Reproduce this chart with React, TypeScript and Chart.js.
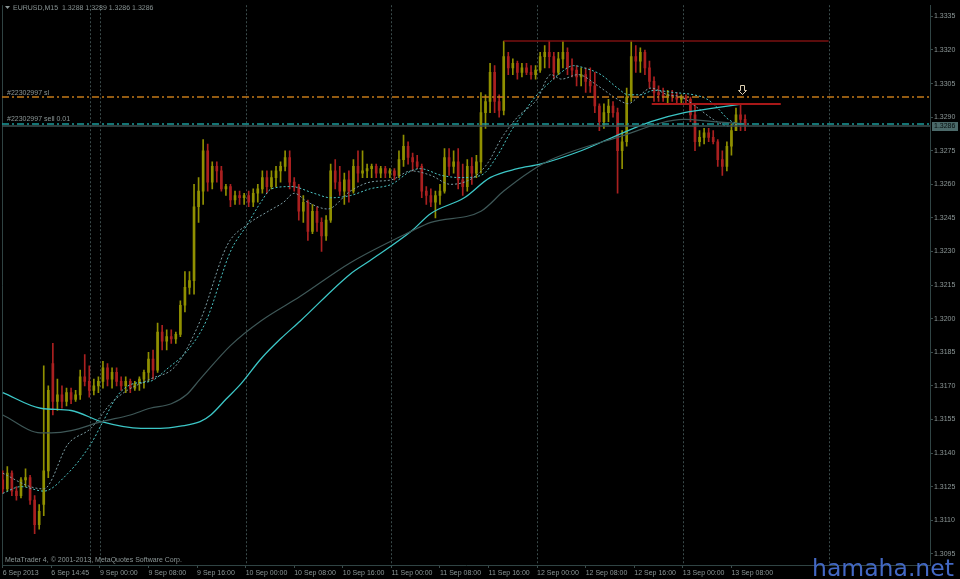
import React, { useEffect, useRef } from "react";
import { Chart, registerables } from "chart.js";

Chart.register(...registerables);

// ---- symbol / header ----
const symbolName = "EURUSD,M15";
const headerOHLC = [1.3288, 1.3289, 1.3286, 1.3286];

// ---- time axis (bar index of M15 bars) ----
const timeTickBars = [0, 32, 64, 96, 128, 160, 192, 224, 256, 288, 320, 352, 384, 416, 448, 480];
const timeLabels = [
  "6 Sep 2013", "6 Sep 14:45", "9 Sep 00:00", "9 Sep 08:00", "9 Sep 16:00",
  "10 Sep 00:00", "10 Sep 08:00", "10 Sep 16:00", "11 Sep 00:00", "11 Sep 08:00",
  "11 Sep 16:00", "12 Sep 00:00", "12 Sep 08:00", "12 Sep 16:00", "13 Sep 00:00", "13 Sep 08:00",
];
const separatorBars = [57.3, 64, 160, 256, 352, 448, 544];

// ---- price axis ----
const priceTicks = [1.3095, 1.311, 1.3125, 1.314, 1.3155, 1.317, 1.3185, 1.32, 1.3215, 1.323, 1.3245, 1.326, 1.3275, 1.329, 1.3305, 1.332, 1.3335];

// ---- candles ----
const candleBars = [
  0, 3, 6, 9, 12, 15, 18, 21, 24, 27, 30, 33, 36, 39, 42, 45, 48, 51, 54, 57,
  60, 63, 66, 69, 72, 75, 78, 81, 84, 87, 90, 93, 96, 99, 102, 105, 108, 111, 114, 117,
  120, 123, 126, 129, 132, 135, 138, 141, 144, 147, 150, 153, 156, 159, 162, 165, 168, 171, 174, 177,
  180, 183, 186, 189, 192, 195, 198, 201, 204, 207, 210, 213, 216, 219, 222, 225, 228, 231, 234, 237,
  240, 243, 246, 249, 252, 255, 258, 261, 264, 267, 270, 273, 276, 279, 282, 285, 288, 291, 294, 297,
  300, 303, 306, 309, 312, 315, 318, 321, 324, 327, 330, 333, 336, 339, 342, 345, 348, 351, 354, 357,
  360, 363, 366, 369, 372, 375, 378, 381, 384, 387, 390, 393, 396, 399, 402, 405, 408, 411, 414, 417,
  420, 423, 426, 429, 432, 435, 438, 441, 444, 447, 450, 453, 456, 459, 462, 465, 468, 471, 474, 477,
  480, 483, 486, 489,
];
const opens = [
  1.3128, 1.3124, 1.3131, 1.3123, 1.3121, 1.3128, 1.3129, 1.3119, 1.3108, 1.3117,
  1.3132, 1.318, 1.3163, 1.3166, 1.3163, 1.3167, 1.3164, 1.3166, 1.3174, 1.3172,
  1.3168, 1.317, 1.3172, 1.3178, 1.3173, 1.3176, 1.3172, 1.317, 1.3172, 1.3169,
  1.3171, 1.3173, 1.3176, 1.3182, 1.3177, 1.3194, 1.319, 1.3192, 1.3191, 1.3193,
  1.3206, 1.3214, 1.3217, 1.325, 1.3257, 1.3275, 1.3261, 1.3268, 1.3266, 1.3258,
  1.3259, 1.3253, 1.3255, 1.3254, 1.3255, 1.3252, 1.3256, 1.3258, 1.3263, 1.3259,
  1.3263, 1.3266, 1.3268, 1.3272, 1.3261, 1.3259, 1.3248, 1.3252, 1.3239, 1.3248,
  1.3243, 1.3237, 1.3244, 1.3266, 1.3261, 1.3257, 1.3262, 1.3257, 1.3268, 1.3265,
  1.3266, 1.3267, 1.3268, 1.3265, 1.3267, 1.3265, 1.3266, 1.3264, 1.3271, 1.3277,
  1.3272, 1.327, 1.3268, 1.3257, 1.3255, 1.3252, 1.3255, 1.3257, 1.3272, 1.3268,
  1.327, 1.3262, 1.3259, 1.3268, 1.3265, 1.327, 1.3292, 1.3297, 1.331, 1.3297,
  1.3293, 1.3317, 1.3312, 1.3314, 1.331, 1.3312, 1.331, 1.3309, 1.3311, 1.3317,
  1.3319, 1.3317, 1.331, 1.3316, 1.3319, 1.3312, 1.3311, 1.3308, 1.3309, 1.3306,
  1.3304, 1.3295, 1.3288, 1.3292, 1.3295, 1.3292, 1.3275, 1.3279, 1.3299, 1.3317,
  1.3315, 1.3319, 1.3312, 1.3306, 1.3301, 1.33, 1.3299, 1.33, 1.3299, 1.3298,
  1.3299, 1.3298, 1.3291, 1.3279, 1.3281, 1.3283, 1.3281, 1.3279, 1.3271, 1.3268,
  1.3277, 1.3284, 1.3291, 1.3289,
];
const highs = [
  1.3132, 1.3134, 1.3132, 1.3125, 1.3129, 1.3133, 1.313, 1.3121, 1.3117, 1.3179,
  1.317, 1.3189, 1.3173, 1.317, 1.3169, 1.3169, 1.3168, 1.3177, 1.3184, 1.3179,
  1.3173, 1.3174, 1.3181, 1.318, 1.3178, 1.3178, 1.3174, 1.3174, 1.3173, 1.3172,
  1.3174, 1.3177, 1.3185, 1.3186, 1.3198, 1.3197, 1.3195, 1.3195, 1.3194, 1.3208,
  1.3221, 1.3221, 1.326, 1.3263, 1.328, 1.3278, 1.327, 1.327, 1.3268, 1.326,
  1.326, 1.3257, 1.3257, 1.3256, 1.3257, 1.3258, 1.326, 1.3266, 1.3266, 1.3266,
  1.3268, 1.327, 1.3275, 1.3275, 1.3263, 1.326, 1.3255, 1.3253, 1.3251, 1.325,
  1.3245, 1.3246, 1.3269, 1.3271, 1.3268, 1.3265, 1.3266, 1.3271, 1.3275, 1.3275,
  1.3269, 1.3269, 1.3269, 1.3268, 1.3268, 1.3267, 1.3267, 1.3275, 1.3282, 1.3279,
  1.3274, 1.3273, 1.3269, 1.3259, 1.3258, 1.3257, 1.326, 1.3276, 1.3276, 1.3275,
  1.3276, 1.3269, 1.3271, 1.3272, 1.3273, 1.3301, 1.33, 1.3314, 1.3313, 1.33,
  1.3324, 1.3319, 1.3316, 1.3315, 1.3314, 1.3314, 1.3313, 1.3313, 1.3319, 1.3322,
  1.3324, 1.3319, 1.3319, 1.3324, 1.3321, 1.3316, 1.3313, 1.3312, 1.3312, 1.3312,
  1.331, 1.3296, 1.3296, 1.3298, 1.3297, 1.3294, 1.3284, 1.3303, 1.3324, 1.3322,
  1.3321, 1.332, 1.3315, 1.3308, 1.3304, 1.3303, 1.3302, 1.3302, 1.3301, 1.33,
  1.33, 1.3299, 1.3296, 1.3284, 1.3285, 1.3285, 1.3284, 1.328, 1.3275, 1.3279,
  1.3287, 1.3294, 1.3296, 1.3291,
];
const lows = [
  1.3122, 1.3123, 1.3121, 1.3119, 1.312, 1.3125, 1.3117, 1.3104, 1.3106, 1.3112,
  1.3129, 1.3157, 1.3159, 1.316, 1.3161, 1.3162, 1.3163, 1.3164, 1.317, 1.3165,
  1.3166, 1.3167, 1.3169, 1.317, 1.3169, 1.317, 1.3168, 1.3167, 1.3167, 1.3168,
  1.3168, 1.3169, 1.3172, 1.3173, 1.3176, 1.3186, 1.3186, 1.3189, 1.3189, 1.3192,
  1.3203, 1.3211, 1.3211, 1.3243, 1.3251, 1.3257, 1.3258, 1.3261, 1.3257, 1.3255,
  1.325, 1.3251, 1.3251, 1.3251, 1.325, 1.325, 1.3252, 1.3256, 1.3256, 1.3258,
  1.3259, 1.3261, 1.3266, 1.3258, 1.3257, 1.3244, 1.3243, 1.3235, 1.3238, 1.3239,
  1.323, 1.3235, 1.3243, 1.3258, 1.3255, 1.3251, 1.3252, 1.3256, 1.3261, 1.3263,
  1.3263, 1.3263, 1.3263, 1.3263, 1.3263, 1.3263, 1.3262, 1.3263, 1.3268, 1.3269,
  1.3266, 1.3267, 1.3254, 1.3251, 1.325, 1.3245, 1.3251, 1.3256, 1.3264, 1.3265,
  1.3258, 1.3255, 1.3257, 1.326, 1.3263, 1.3265, 1.3285, 1.3292, 1.3292, 1.329,
  1.3291, 1.3309, 1.3309, 1.3307, 1.3308, 1.3309, 1.3307, 1.3307, 1.331, 1.3312,
  1.3312, 1.3307, 1.3309, 1.3312, 1.3309, 1.3308, 1.3304, 1.3304, 1.3301, 1.3301,
  1.3292, 1.3284, 1.3285, 1.3288, 1.329, 1.3256, 1.3267, 1.3277, 1.3297, 1.331,
  1.331, 1.3309, 1.3303, 1.3297, 1.3297, 1.3297, 1.3296, 1.3297, 1.3296, 1.3296,
  1.3296, 1.3288, 1.3275, 1.3277, 1.3278, 1.3279, 1.3278, 1.3268, 1.3264, 1.3266,
  1.3273, 1.3284, 1.3284, 1.3284,
];
const closes = [
  1.3124, 1.3131, 1.3123, 1.3121, 1.3128, 1.3129, 1.3119, 1.3108, 1.3114, 1.3132,
  1.3168, 1.3163, 1.3166, 1.3163, 1.3167, 1.3164, 1.3166, 1.3174, 1.3172, 1.3168,
  1.317, 1.3172, 1.3178, 1.3173, 1.3176, 1.3172, 1.317, 1.3172, 1.3169, 1.3171,
  1.3173, 1.3176, 1.3182, 1.3177, 1.3194, 1.319, 1.3192, 1.3191, 1.3193, 1.3206,
  1.3214, 1.3217, 1.325, 1.3257, 1.3275, 1.3261, 1.3268, 1.3266, 1.3258, 1.3259,
  1.3253, 1.3255, 1.3254, 1.3255, 1.3252, 1.3256, 1.3258, 1.3263, 1.3259, 1.3263,
  1.3266, 1.3268, 1.3272, 1.3261, 1.3259, 1.3248, 1.3252, 1.3239, 1.3248, 1.3243,
  1.3237, 1.3244, 1.3266, 1.3261, 1.3257, 1.3262, 1.3257, 1.3268, 1.3265, 1.3266,
  1.3267, 1.3268, 1.3265, 1.3267, 1.3265, 1.3266, 1.3264, 1.3271, 1.3277, 1.3272,
  1.327, 1.3268, 1.3257, 1.3255, 1.3252, 1.3255, 1.3257, 1.3272, 1.3268, 1.327,
  1.3262, 1.3259, 1.3268, 1.3265, 1.327, 1.3292, 1.3297, 1.331, 1.3297, 1.3293,
  1.3317, 1.3312, 1.3314, 1.331, 1.3312, 1.331, 1.3309, 1.3311, 1.3317, 1.3319,
  1.3317, 1.331, 1.3316, 1.3319, 1.3312, 1.3311, 1.3308, 1.3309, 1.3306, 1.3304,
  1.3295, 1.3288, 1.3292, 1.3295, 1.3292, 1.3275, 1.3279, 1.3299, 1.3317, 1.3315,
  1.3319, 1.3312, 1.3306, 1.3301, 1.33, 1.3299, 1.33, 1.3299, 1.3298, 1.3299,
  1.3298, 1.3291, 1.3279, 1.3281, 1.3283, 1.3281, 1.3279, 1.3271, 1.3268, 1.3277,
  1.3284, 1.3291, 1.3289, 1.3286,
];

// ---- moving averages ----
const maSlowBars = [0, 25, 45, 65, 91, 104, 117, 130, 137, 147, 157, 170, 183, 196, 229, 242, 269, 282, 304, 321, 339, 354, 381, 405, 427, 449, 468, 489];
const maSlowValues = [1.3167, 1.316, 1.3159, 1.3154, 1.3151, 1.3151, 1.3152, 1.3154, 1.3157, 1.3164, 1.3171, 1.3182, 1.3191, 1.3199, 1.322, 1.3226, 1.3239, 1.3247, 1.3254, 1.3263, 1.3267, 1.3269, 1.3275, 1.3282, 1.3288, 1.3292, 1.3294, 1.3296];

const maSlowestBars = [0, 25, 32, 45, 65, 84, 97, 111, 121, 130, 150, 170, 196, 229, 269, 282, 315, 330, 348, 361, 405, 449, 468, 489];
const maSlowestValues = [1.3157, 1.3149, 1.3149, 1.315, 1.3154, 1.3157, 1.316, 1.3162, 1.3166, 1.3173, 1.3188, 1.3199, 1.321, 1.3225, 1.3239, 1.3243, 1.3248, 1.3257, 1.3266, 1.3271, 1.3281, 1.3289, 1.3288, 1.3287];

const maFastBars = [0, 12, 27, 43, 58, 66, 76, 86, 97, 109, 122, 134, 150, 161, 170, 177, 190, 205, 216, 229, 242, 256, 269, 275, 289, 302, 315, 326, 335, 343, 352, 361, 366, 376, 383, 394, 405, 412, 420, 429, 442, 455, 464, 471, 478, 486, 489];
const maFastValues = [1.3122, 1.3125, 1.3123, 1.3131, 1.3144, 1.3154, 1.3166, 1.3171, 1.3172, 1.3178, 1.3186, 1.3199, 1.323, 1.3242, 1.3252, 1.3258, 1.3259, 1.3256, 1.3254, 1.3255, 1.3258, 1.326, 1.3266, 1.3267, 1.3264, 1.3263, 1.3264, 1.3273, 1.3284, 1.3292, 1.33, 1.3306, 1.3309, 1.3313, 1.3312, 1.3309, 1.3303, 1.33, 1.33, 1.3302, 1.3301, 1.33, 1.3298, 1.3294, 1.3289, 1.3287, 1.3287];

const maFastestBars = [0, 18, 27, 43, 58, 71, 82, 97, 114, 130, 148, 161, 175, 185, 192, 201, 214, 229, 242, 256, 269, 282, 295, 310, 320, 328, 339, 352, 361, 368, 379, 392, 405, 412, 420, 427, 438, 447, 458, 468, 478, 486];
const maFastestValues = [1.3131, 1.3125, 1.3124, 1.3144, 1.3151, 1.3162, 1.3168, 1.3173, 1.3179, 1.3199, 1.3233, 1.3242, 1.3248, 1.3252, 1.3256, 1.3252, 1.3249, 1.3257, 1.3261, 1.3262, 1.3266, 1.3264, 1.326, 1.3263, 1.327, 1.328, 1.329, 1.3298, 1.3309, 1.3307, 1.3309, 1.3304, 1.3298, 1.3296, 1.33, 1.3303, 1.33, 1.3299, 1.3294, 1.3289, 1.3286, 1.3287];

// ---- order lines, trend lines, arrow ----
const orderTicket = "#22302997";
const stopLossPrice = 1.3299;
const sellPrice = 1.3287;
const sellLots = "0.01";
const bidPrice = 1.3286;
const trendFromBars = [330, 427.5];
const trendToBars = [544, 512.5];
const trendPrices = [1.3324, 1.3296];
const arrowBar = 487;
const arrowPrice = 1.3302;

const BULL = "#909000";
const BEAR = "#aa2020";
const TEXT = "#8c9797";
const FONT = '"Liberation Sans", Arial, sans-serif';

const overlay = {
  id: "mt4overlay",
  beforeDraw(chart: any) {
    const { ctx, width, height } = chart;
    ctx.save();
    ctx.fillStyle = "#000";
    ctx.fillRect(0, 0, width, height);
    ctx.restore();
  },
  beforeDatasetsDraw(chart: any) {
    const { ctx, chartArea: a, scales } = chart;
    const x = scales.x;
    ctx.save();
    ctx.strokeStyle = "#3a4a4a";
    ctx.lineWidth = 1;
    ctx.setLineDash([2, 2]);
    for (const b of separatorBars) {
      const px = Math.round(x.getPixelForValue(b)) + 0.5;
      ctx.beginPath();
      ctx.moveTo(px, a.top);
      ctx.lineTo(px, a.bottom);
      ctx.stroke();
    }
    ctx.setLineDash([]);
    ctx.strokeStyle = "#2f4242";
    ctx.beginPath();
    ctx.moveTo(a.left + 0.5, a.top);
    ctx.lineTo(a.left + 0.5, a.bottom);
    ctx.stroke();
    ctx.restore();
  },
  afterDatasetsDraw(chart: any) {
    const { ctx, chartArea: a, scales } = chart;
    const x = scales.x;
    const y = scales.y;
    ctx.save();
    ctx.beginPath();
    ctx.rect(a.left, a.top, a.right - a.left, a.bottom - a.top);
    ctx.clip();
    const hline = (p: number, color: string, dash: number[], w: number) => {
      const py = Math.round(y.getPixelForValue(p));
      ctx.strokeStyle = color;
      ctx.lineWidth = w;
      ctx.setLineDash(dash);
      ctx.beginPath();
      ctx.moveTo(a.left, py);
      ctx.lineTo(a.right, py);
      ctx.stroke();
    };
    hline(bidPrice, "#3c5252", [], 1.5);
    hline(sellPrice, "#1a9a9a", [7, 3, 2, 3], 1.5);
    hline(stopLossPrice, "#c47a18", [7, 3, 2, 3], 1.5);
    ctx.setLineDash([]);
    const trendColors = ["#7a1010", "#a81818"];
    const trendWidths = [1.5, 1.8];
    trendPrices.forEach((p, i) => {
      const py = Math.round(y.getPixelForValue(p));
      ctx.strokeStyle = trendColors[i];
      ctx.lineWidth = trendWidths[i];
      ctx.beginPath();
      ctx.moveTo(x.getPixelForValue(trendFromBars[i]), py);
      ctx.lineTo(x.getPixelForValue(trendToBars[i]), py);
      ctx.stroke();
    });
    // arrow
    const cx = Math.round(x.getPixelForValue(arrowBar)) + 0.5;
    const cy = Math.round(y.getPixelForValue(arrowPrice)) + 0.5;
    ctx.strokeStyle = "#dccfb2";
    ctx.lineWidth = 1;
    ctx.beginPath();
    ctx.moveTo(cx - 2, cy - 5);
    ctx.lineTo(cx + 2, cy - 5);
    ctx.lineTo(cx + 2, cy);
    ctx.lineTo(cx + 4, cy);
    ctx.lineTo(cx, cy + 4);
    ctx.lineTo(cx - 4, cy);
    ctx.lineTo(cx - 2, cy);
    ctx.closePath();
    ctx.stroke();
    // order labels
    ctx.fillStyle = TEXT;
    ctx.font = `7px ${FONT}`;
    ctx.textBaseline = "alphabetic";
    ctx.textAlign = "left";
    ctx.fillText(`${orderTicket} sl`, a.left + 5, y.getPixelForValue(stopLossPrice) - 2.5);
    ctx.fillText(`${orderTicket} sell ${sellLots}`, a.left + 5, y.getPixelForValue(sellPrice) - 2.5);
    // header
    ctx.beginPath();
    ctx.moveTo(5, 6);
    ctx.lineTo(10, 6);
    ctx.lineTo(7.5, 9);
    ctx.closePath();
    ctx.fill();
    ctx.fillText(`${symbolName}  ${headerOHLC.map((v) => v.toFixed(4)).join(" ")}`, 13, 10);
    ctx.fillText("MetaTrader 4, © 2001-2013, MetaQuotes Software Corp.", 5, 562);
    ctx.restore();
  },
  afterDraw(chart: any) {
    const { ctx, chartArea: a, scales } = chart;
    const y = scales.y;
    ctx.save();
    const py = Math.round(y.getPixelForValue(bidPrice));
    ctx.fillStyle = "#4b6969";
    ctx.fillRect(a.right + 2, py - 4, 26, 9);
    ctx.fillStyle = "#050d0d";
    ctx.font = `7px ${FONT}`;
    ctx.textBaseline = "middle";
    ctx.textAlign = "left";
    ctx.fillText(bidPrice.toFixed(4), a.right + 4, py + 0.5);
    ctx.fillStyle = "#4368c4";
    ctx.font = '23.5px "DejaVu Sans", sans-serif';
    ctx.textBaseline = "alphabetic";
    ctx.fillText("hamaha.net", 812, 576);
    ctx.restore();
  },
};

export default function App() {
  const ref = useRef<HTMLCanvasElement>(null);
  useEffect(() => {
    document.body.style.margin = "0";
    document.body.style.background = "#000";
    const canvas = ref.current as HTMLCanvasElement;
    const colors = candleBars.map((_, i) => (closes[i] >= opens[i] ? BULL : BEAR));
    const lineSet = (bars: number[], vals: number[], color: string, width: number, dash: number[]) => ({
      type: "line",
      data: bars.map((b, i) => ({ x: b, y: vals[i] })),
      borderColor: color,
      borderWidth: width,
      borderDash: dash,
      pointRadius: 0,
      fill: false,
      cubicInterpolationMode: "monotone",
      order: 0,
    });
    const chart = new Chart(canvas, {
      type: "bar",
      data: {
        datasets: [
          {
            type: "bar",
            data: candleBars.map((b, i) => ({ x: b, y: [lows[i], highs[i]] })),
            backgroundColor: colors,
            borderWidth: 0,
            barThickness: 1,
            grouped: false,
            order: 6,
          },
          {
            type: "bar",
            data: candleBars.map((b, i) => ({ x: b, y: [opens[i], closes[i]] })),
            backgroundColor: colors,
            borderWidth: 0,
            barThickness: 2,
            minBarLength: 1,
            grouped: false,
            order: 5,
          },
          lineSet(maSlowestBars, maSlowestValues, "#3e5757", 1.2, []),
          lineSet(maSlowBars, maSlowValues, "#3cc6c6", 1.3, []),
          lineSet(maFastestBars, maFastestValues, "#7c9ca2", 1, [2, 2]),
          lineSet(maFastBars, maFastValues, "#4cc4c4", 1, [2, 2]),
        ] as any,
      },
      options: {
        responsive: false,
        animation: false,
        devicePixelRatio: 1,
        events: [],
        layout: { padding: { left: 2, top: 3, right: 0, bottom: 0 } },
        plugins: { legend: { display: false }, tooltip: { enabled: false } },
        scales: {
          x: {
            type: "linear",
            min: -0.5,
            max: 610.8,
            offset: false,
            afterBuildTicks: (s: any) => {
              s.ticks = timeTickBars.map((v) => ({ value: v }));
            },
            afterFit: (s: any) => {
              s.height = 14;
            },
            ticks: {
              autoSkip: false,
              maxRotation: 0,
              minRotation: 0,
              align: "start",
              padding: 1,
              color: TEXT,
              font: { family: FONT, size: 7 },
              callback: (v: any) => {
                const i = timeTickBars.indexOf(Number(v));
                return i >= 0 ? timeLabels[i] : "";
              },
            },
            grid: { drawOnChartArea: false, drawTicks: true, tickLength: 3, color: "#3b4c4c", offset: false },
            border: { display: true, color: "#304444", width: 1 },
          },
          y: {
            type: "linear",
            position: "right",
            min: 1.309,
            max: 1.334,
            beginAtZero: false,
            afterBuildTicks: (s: any) => {
              s.ticks = priceTicks.map((v) => ({ value: v }));
            },
            afterFit: (s: any) => {
              s.width = 30;
            },
            ticks: {
              padding: 1,
              color: TEXT,
              font: { family: FONT, size: 7 },
              callback: (v: any) => Number(v).toFixed(4),
            },
            grid: { drawOnChartArea: false, drawTicks: true, tickLength: 3, color: "#3b4c4c" },
            border: { display: true, color: "#304444", width: 1 },
          },
        },
      } as any,
      plugins: [overlay],
    });
    return () => chart.destroy();
  }, []);
  return (
    <canvas
      ref={ref}
      width={960}
      height={579}
      style={{ display: "block", position: "fixed", left: 0, top: 0, width: 960, height: 579, background: "#000" }}
    />
  );
}
